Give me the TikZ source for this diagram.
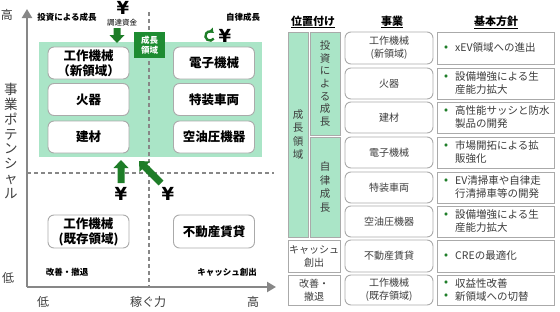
\documentclass[tikz,border=0pt]{standalone}
\usepackage{fontspec}
\setmainfont{Noto Sans CJK JP}
\newfontfamily\yenfont{DejaVu Sans}
\usetikzlibrary{arrows.meta}
\definecolor{mint}{RGB}{170,229,199}
\definecolor{dgreen}{RGB}{30,140,50}
\definecolor{agreen}{RGB}{30,125,40}
\definecolor{axisgray}{RGB}{135,135,135}
\definecolor{bordergray}{RGB}{170,170,170}
\definecolor{txt}{RGB}{60,60,60}
\tikzset{
  barrow/.pic={\fill[agreen] (-3.5,0) -- (-3.5,-#1+8) -- (-7.5,-#1+8) -- (0,-#1) -- (7.5,-#1+8) -- (3.5,-#1+8) -- (3.5,0) -- cycle;},
  lbox/.style={draw=bordergray, line width=0.9pt, fill=white, rounded corners=6pt, minimum width=81pt, minimum height=32pt, inner sep=0pt, align=center, font=\bfseries\fontsize{12.5}{15}\selectfont},
  bizbox/.style={draw=bordergray, line width=0.9pt, fill=white, rounded corners=6pt, minimum width=88pt, minimum height=31pt, inner sep=0pt, align=center, text=txt, font=\fontsize{10}{13}\selectfont},
  polbox/.style={draw=bordergray, line width=0.9pt, fill=white, minimum width=117pt, minimum height=31pt, inner sep=0pt},
  poltext/.style={anchor=west, align=left, inner sep=0pt, text=txt, font=\fontsize{10.5}{13}\selectfont},
  bul/.style={inner sep=0pt, text=agreen, font=\bfseries\fontsize{10}{10}\selectfont},
  posbox/.style={draw=bordergray, line width=0.9pt, fill=mint, inner sep=0pt, align=center, text=txt},
  poswhite/.style={draw=bordergray, line width=0.9pt, fill=white, inner sep=0pt, align=center, text=txt, font=\fontsize{10}{13}\selectfont},
  hdr/.style={inner sep=0pt, font=\bfseries\fontsize{11}{13}\selectfont},
  small/.style={inner sep=0pt, font=\bfseries\fontsize{8.5}{10}\selectfont},
  axlbl/.style={inner sep=0pt, text=txt, font=\fontsize{12}{14}\selectfont},
  yen/.style={inner sep=0pt, font=\yenfont\bfseries\fontsize{18}{18}\selectfont},
  dashln/.style={draw=axisgray, line width=1.1pt, dash pattern=on 4pt off 3pt}
}
\begin{document}
\begin{tikzpicture}[x=1pt,y=-1pt]
\useasboundingbox (0,0) rectangle (560,311);
% green region
\fill[mint] (39,42) rectangle (262,157);
% dashed lines
\coordinate (vtop) at (149,12);
\coordinate (vbot) at (149,287);
\coordinate (hl) at (27,173);
\coordinate (hr) at (274,173);
\draw[dashln] (vtop) -- (vbot);
\draw[dashln] (hl) -- (hr);
% axes
\coordinate (org) at (27,287);
\coordinate (ytip) at (27,9);
\coordinate (xtip) at (276,287);
\draw[axisgray, line width=2.3pt, -{Triangle[length=9pt,width=10pt]}] (org) -- (ytip);
\draw[axisgray, line width=2.3pt, -{Triangle[length=9pt,width=10pt]}] (org) -- (xtip);
% axis labels
\node[axlbl] (hiy) at (7,15) {高};
\node[axlbl] (loy) at (8,278) {低};
\node[axlbl] (lox) at (43,302) {低};
\node[axlbl] (xlab) at (148,302) {稼ぐ力};
\node[axlbl] (hix) at (253,302) {高};
\node[axlbl, align=center, font=\fontsize{13.5}{14.8}\selectfont] (ylab) at (11,141) {事\\業\\ポ\\テ\\ン\\シ\\ャ\\ル};
% quadrant labels
\node[small] (q1) at (67,17) {投資による成長};
\node[small] (q2) at (243,17) {自律成長};
\node[small] (q3) at (67,272) {改善・撤退};
\node[small] (q4) at (227,272) {キャッシュ創出};
% left boxes
\node[lbox] (l1) at (88.5,63) {工作機械\\（新領域）};
\node[lbox] (l2) at (88.5,99.5) {火器};
\node[lbox] (l3) at (88.5,137) {建材};
\node[lbox] (r1) at (214,63) {電子機械};
\node[lbox] (r2) at (214,99.5) {特装車両};
\node[lbox] (r3) at (214,137) {空油圧機器};
\node[lbox, minimum height=33pt] (l4) at (88.5,231.5) {工作機械\\(既存領域)};
\node[lbox, minimum height=33pt] (r4) at (214,231.5) {不動産賃貸};
% growth label
\node[fill=dgreen, text=white, minimum width=31pt, minimum height=26pt, inner sep=0pt, align=center, font=\bfseries\fontsize{8.5}{10.5}\selectfont] (glbl) at (149.5,45) {成長\\領域};
% yen and arrows
\node[yen] (yen1) at (123,8) {¥};
\node[inner sep=0pt, font=\fontsize{7.5}{9}\selectfont] (fund) at (122,23) {調達資金};
\pic[rotate=180] at (117,28) {barrow=15};
\pic at (121,183) {barrow=23};
\pic[rotate=45] at (161,183) {barrow=31};
\node[yen] (yen2) at (121,194) {¥};
\node[yen] (yen3) at (168,194) {¥};
\node[yen] (yen4) at (225,36) {¥};
\coordinate (cc) at (210,36);
\draw[agreen, line width=2.4pt, -{Triangle[length=4pt,width=6.5pt]}] (cc) ++(35:4.6) arc[start angle=35, end angle=315, radius=4.6];
% table headers
\node[hdr] (h1) at (313,22) {\underline{位置付け}};
\node[hdr] (h2) at (392,22) {\underline{事業}};
\node[hdr] (h3) at (496,22) {\underline{基本方針}};
% position column
\node[posbox, minimum width=20pt, minimum height=205pt, font=\fontsize{10.5}{13.5}\selectfont] (c1) at (298,134.5) {成\\長\\領\\域};
\node[posbox, minimum width=30pt, minimum height=103pt, font=\fontsize{10.5}{12.6}\selectfont] (c2a) at (325,83.5) {投\\資\\に\\よ\\る\\成\\長};
\node[posbox, minimum width=30pt, minimum height=100pt, font=\fontsize{10.5}{13.5}\selectfont] (c2b) at (325,187) {自\\律\\成\\長};
\node[poswhite, minimum width=52pt, minimum height=32pt] (c3) at (314,256) {キャッシュ\\創出};
\node[poswhite, minimum width=52pt, minimum height=30pt] (c4) at (314,290) {改善・\\撤退};
% business column
\node[bizbox, minimum height=32pt] (b1) at (389,48) {工作機械\\(新領域)};
\node[bizbox] (b2) at (389,83.5) {火器};
\node[bizbox] (b3) at (389,117.5) {建材};
\node[bizbox] (b4) at (389,152.5) {電子機械};
\node[bizbox] (b5) at (389,187.5) {特装車両};
\node[bizbox] (b6) at (389,221.5) {空油圧機器};
\node[bizbox, minimum height=32pt] (b7) at (389,256) {不動産賃貸};
\node[bizbox, minimum height=30pt] (b8) at (389,290) {工作機械\\(既存領域)};
% policy column
\node[polbox, minimum height=32pt] (p1) at (495.5,48) {};
\node[polbox] (p2) at (495.5,83.5) {};
\node[polbox] (p3) at (495.5,117.5) {};
\node[polbox] (p4) at (495.5,152.5) {};
\node[polbox] (p5) at (495.5,187.5) {};
\node[polbox] (p6) at (495.5,221.5) {};
\node[polbox, minimum height=32pt] (p7) at (495.5,256) {};
\node[polbox, minimum height=30pt] (p8) at (495.5,290) {};
\node[bul] (u1) at (446,48) {•};
\node[poltext] (t1) at (455,48) {xEV領域への進出};
\node[bul] (u2) at (446,77) {•};
\node[poltext] (t2) at (455,83.5) {設備増強による生\\産能力拡大};
\node[bul] (u3) at (446,111) {•};
\node[poltext] (t3) at (455,117.5) {高性能サッシと防水\\製品の開発};
\node[bul] (u4) at (446,146) {•};
\node[poltext] (t4) at (455,152.5) {市場開拓による拡\\販強化};
\node[bul] (u5) at (446,181) {•};
\node[poltext] (t5) at (455,187.5) {EV清掃車や自律走\\行清掃車等の開発};
\node[bul] (u6) at (446,215) {•};
\node[poltext] (t6) at (455,221.5) {設備増強による生\\産能力拡大};
\node[bul] (u7) at (446,256) {•};
\node[poltext] (t7) at (455,256) {CREの最適化};
\node[bul] (u8) at (446,283.5) {•};
\node[bul] (u9) at (446,296.5) {•};
\node[poltext] (t8) at (455,290) {収益性改善\\新領域への切替};
\end{tikzpicture}
\end{document}
